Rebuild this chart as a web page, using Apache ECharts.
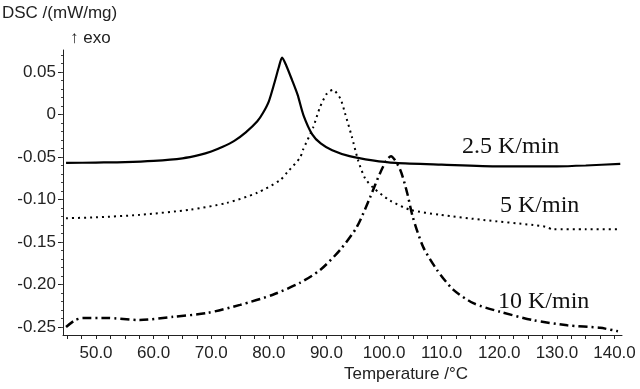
<!DOCTYPE html>
<html><head><meta charset="utf-8">
<script src="https://cdn.jsdelivr.net/npm/echarts@6/dist/echarts.min.js"></script>
<style>html,body{margin:0;padding:0;background:#fff}#c{width:640px;height:389px}</style>
</head><body><div id="c"></div>
<script>
// 2.5 K/min (solid)
const t25 = [44.8, 50, 55, 60, 65, 68, 70, 72, 74, 76, 78, 79, 80, 81, 81.7, 82.3, 83, 84, 85, 86, 87.5, 89, 91, 94, 98, 102, 110, 120, 130, 135, 141];
const v25 = [-0.057, -0.0565, -0.056, -0.0545, -0.0515, -0.0475, -0.0435, -0.038, -0.031, -0.021, -0.008, 0.002, 0.0155, 0.038, 0.055, 0.067, 0.058, 0.041, 0.023, -0.0006, -0.023, -0.034, -0.042, -0.049, -0.054, -0.057, -0.059, -0.061, -0.061, -0.060, -0.058];
// 5 K/min (dotted)
const t5 = [44.8, 50, 57.6, 66.3, 72.7, 78, 82, 83.2, 85.4, 85.9, 87.7, 88.9, 90.1, 91.1, 92.4, 93.2, 94.4, 95.5, 96.7, 98.1, 101, 104.5, 109.7, 117.2, 125.9, 128, 129.3, 135, 140.5];
const v5 = [-0.122, -0.121, -0.118, -0.112, -0.104, -0.092, -0.077, -0.068, -0.051, -0.042, -0.015, 0.009, 0.025, 0.029, 0.019, 0.002, -0.026, -0.054, -0.075, -0.086, -0.101, -0.112, -0.118, -0.124, -0.130, -0.132, -0.135, -0.135, -0.135];
// 10 K/min (dash-dot)
const t10 = [44.8, 46.35, 47.7, 51.9, 57.6, 63.4, 69.3, 75, 80.7, 85.4, 88.9, 92.4, 95.3, 97.6, 99.3, 100.5, 101.2, 102.8, 104, 105, 106.8, 109.2, 112, 115.5, 120.1, 125.9, 131.8, 137.5, 140.6];
const v10 = [-0.250, -0.242, -0.2394, -0.2394, -0.2418, -0.238, -0.2335, -0.224, -0.212, -0.198, -0.183, -0.159, -0.132, -0.097, -0.069, -0.053, -0.049, -0.065, -0.092, -0.121, -0.156, -0.183, -0.206, -0.222, -0.232, -0.242, -0.248, -0.251, -0.255];

const xTickLabels = [50, 60, 70, 80, 90, 100, 110, 120, 130, 140];
const xMinorTicks = [45, 47.5, 50, 52.5, 55, 57.5, 60, 62.5, 65, 67.5, 70, 72.5, 75, 77.5, 80, 82.5, 85, 87.5, 90, 92.5, 95, 97.5, 100, 102.5, 105, 107.5, 110, 112.5, 115, 117.5, 120, 122.5, 125, 127.5, 130, 132.5, 135, 137.5, 140];
const yTickLabels = [0.05, 0, -0.05, -0.10, -0.15, -0.20, -0.25];
const yMinorTicks = [0.07, 0.06, 0.05, 0.04, 0.03, 0.02, 0.01, 0, -0.01, -0.02, -0.03, -0.04, -0.05, -0.06, -0.07, -0.08, -0.09, -0.10, -0.11, -0.12, -0.13, -0.14, -0.15, -0.16, -0.17, -0.18, -0.19, -0.20, -0.21, -0.22, -0.23, -0.24, -0.25];
const seriesNames = ['2.5 K/min', '5 K/min', '10 K/min'];

const zip = (a, b) => a.map((t, i) => [t, b[i]]);
const FONT = 'Liberation Sans';
const chart = echarts.init(document.getElementById('c'));
const XMIN = 44.27, XMAX = 141.3, YMIN = -0.2594, YMAX = 0.0759;
chart.setOption({
  animation: false,
  grid: { left: 63, right: 18, top: 50, bottom: 54 },
  xAxis: [{
    type: 'value', min: XMIN, max: XMAX,
    axisLine: { show: true, onZero: false, lineStyle: { color: '#222', width: 1 } },
    axisTick: { show: true, length: 4, customValues: xMinorTicks, lineStyle: { color: '#222' } },
    axisLabel: { customValues: xTickLabels, margin: 10, color: '#222', fontFamily: FONT, fontSize: 17,
      formatter: v => v.toFixed(1) },
    splitLine: { show: false }
  }],
  yAxis: [{
    type: 'value', min: YMIN, max: YMAX,
    axisLine: { show: true, onZero: false, lineStyle: { color: '#222', width: 1 } },
    axisTick: { show: true, length: 5, customValues: yTickLabels, lineStyle: { color: '#222' } },
    axisLabel: { customValues: yTickLabels, margin: 7, color: '#222', fontFamily: FONT, fontSize: 17,
      formatter: v => (Math.abs(v) < 1e-9 ? '0' : v.toFixed(2)) },
    splitLine: { show: false }
  }, {
    type: 'value', min: YMIN, max: YMAX, position: 'left',
    axisLine: { show: false },
    axisTick: { show: true, length: 2, customValues: yMinorTicks, lineStyle: { color: '#444' } },
    axisLabel: { show: false },
    splitLine: { show: false }
  }],
  series: [
    { name: seriesNames[0], type: 'line', data: zip(t25, v25), smooth: 0.25, showSymbol: false,
      lineStyle: { color: '#000', width: 2.2 } },
    { name: seriesNames[1], type: 'line', data: zip(t5, v5), smooth: 0.25, showSymbol: false,
      lineStyle: { color: '#000', width: 2, type: [2, 4] } },
    { name: seriesNames[2], type: 'line', data: zip(t10, v10), smooth: 0.25, showSymbol: false,
      lineStyle: { color: '#000', width: 2.5, type: [9, 4, 2, 4] } }
  ],
  graphic: [
    { type: 'text', left: 2, top: 5, style: { text: 'DSC /(mW/mg)', font: '17px "Liberation Sans"', fill: '#222' } },
    { type: 'text', left: 70, top: 30, style: { text: '↑ exo', font: '17px "Liberation Sans"', fill: '#222' } },
    { type: 'text', left: 344, top: 366, style: { text: 'Temperature /°C', font: '17px "Liberation Sans"', fill: '#222' } },
    { type: 'text', left: 462, top: 135, style: { text: seriesNames[0], font: '24px "Liberation Serif"', fill: '#111' } },
    { type: 'text', left: 500, top: 194, style: { text: seriesNames[1], font: '24px "Liberation Serif"', fill: '#111' } },
    { type: 'text', left: 498, top: 290, style: { text: seriesNames[2], font: '24px "Liberation Serif"', fill: '#111' } }
  ]
});
</script></body></html>
